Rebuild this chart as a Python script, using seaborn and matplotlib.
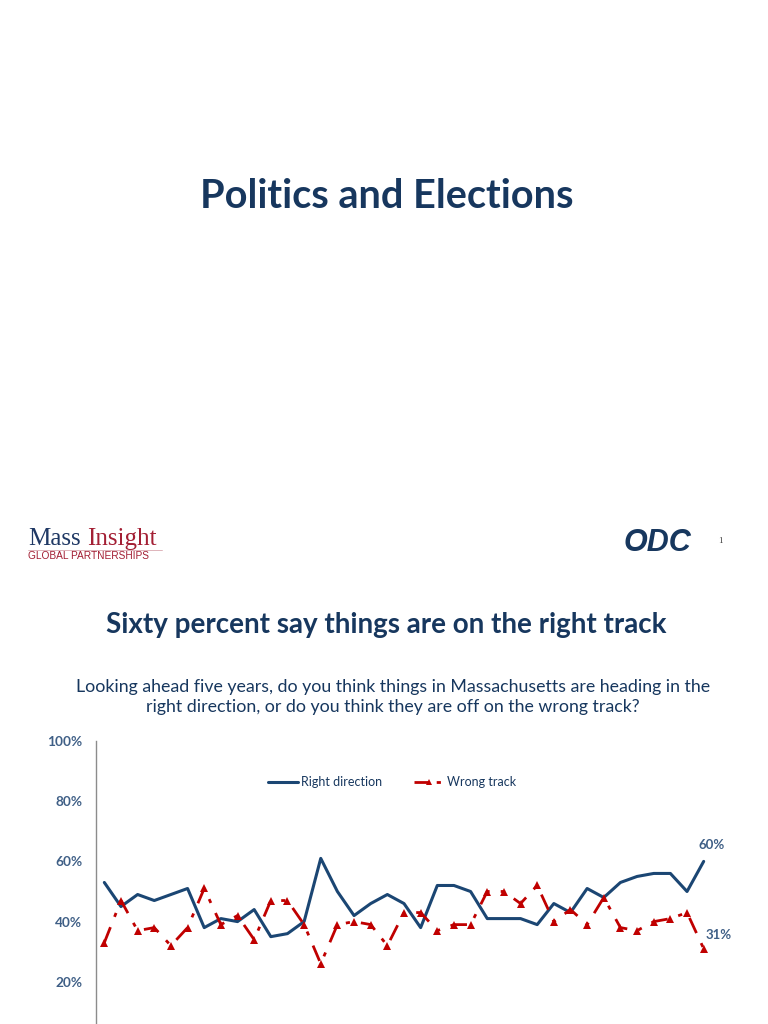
import numpy as np
import pandas as pd
import matplotlib
matplotlib.use("Agg")
import matplotlib.pyplot as plt
from matplotlib.lines import Line2D
import seaborn as sns

# survey waves (37 of them, unlabelled in the visible part of the chart)
waves = list(range(1, 38))
right_direction = [53, 45, 49, 47, 49, 51, 38, 41, 40, 44, 35, 36, 40, 61, 50, 42,
                   46, 49, 46, 38, 52, 52, 50, 41, 41, 41, 39, 46, 43, 51, 48, 53,
                   55, 56, 56, 50, 60]
wrong_track = [33, 47, 37, 38, 32, 38, 51, 39, 42, 34, 47, 47, 39, 26, 39, 40,
               39, 32, 43, 43, 37, 39, 39, 50, 50, 46, 52, 40, 44, 39, 48, 38,
               37, 40, 41, 43, 31]
# the 0% gridline sits below the visible page, so only these labels show
y_ticks = [20, 40, 60, 80, 100]
y_tick_labels = ["20%", "40%", "60%", "80%", "100%"]

NAVY = "#17375E"
LINE_BLUE = "#1B4673"
RED = "#C00000"
TICK_BLUE = "#3F5F86"

sns.set_style("white")
plt.rcParams['font.family'] = ['Lato', 'DejaVu Sans']

fig = plt.figure(figsize=(7.68, 10.24), dpi=100)

def fx(px):
    return px / 768

def fy(py):
    return 1 - py / 1024

# ---- first slide: section title + footer logos
fig.text(fx(387), fy(196), "Politics and Elections", ha="center", va="center",
         fontsize=28.5, fontweight="bold", color=NAVY)

fig.text(fx(28), fy(539), "Mass", ha="left", va="center", fontsize=18,
         family="Liberation Serif", color="#1F3864")
fig.text(fx(87), fy(539), "Insight", ha="left", va="center", fontsize=18,
         family="Liberation Serif", color="#A31F34")
fig.add_artist(Line2D([fx(28), fx(162)], [fy(550), fy(550)], color="#D9A8B0", lw=0.6))
fig.text(fx(28), fy(556), "GLOBAL PARTNERSHIPS", ha="left", va="center", fontsize=7.3,
         family="Liberation Sans", color="#A31F34")

fig.text(fx(624), fy(543), "ODC", ha="left", va="center", fontsize=22,
         family="Liberation Sans", fontweight="bold", fontstyle="italic", color=NAVY)
fig.text(fx(720), fy(541), "1", ha="center", va="center", fontsize=6.5,
         family="Liberation Serif", color="#404040")

# ---- second slide: chart
fig.text(fx(386), fy(625), "Sixty percent say things are on the right track",
         ha="center", va="center", fontsize=20, fontweight="bold", color=NAVY)
fig.text(fx(393), fy(697),
         "Looking ahead five years, do you think things in Massachusetts are heading in the\n"
         "right direction, or do you think they are off on the wrong track?",
         ha="center", va="center", fontsize=12.8, color=NAVY, linespacing=1.3)

ax_left, ax_right = 96, 712
ax_top, ax_bottom = 741, 1042
ax = fig.add_axes([fx(ax_left), fy(ax_bottom), (ax_right - ax_left) / 768,
                   (ax_bottom - ax_top) / 1024])

df = pd.DataFrame({"wave": waves, "Right direction": right_direction,
                   "Wrong track": wrong_track})

sns.lineplot(data=df, x="wave", y="Right direction", ax=ax, color=LINE_BLUE,
             linewidth=2.2, errorbar=None)
sns.lineplot(data=df, x="wave", y="Wrong track", ax=ax, color=RED, linewidth=2.0,
             marker="^", markersize=6, markeredgewidth=0, errorbar=None)
ax.lines[-1].set_dashes([6, 4, 1.5, 4])

ax.set_xlim(0.5, 37.5)
ax.set_ylim(0, 100)
ax.set_yticks(y_ticks)
ax.set_yticklabels(y_tick_labels)
ax.set_xticks([])
ax.set_xlabel("")
ax.set_ylabel("")
for side in ["top", "right", "bottom"]:
    ax.spines[side].set_visible(False)
ax.spines["left"].set_color("#8C8C8C")
ax.spines["left"].set_linewidth(1.0)
ax.tick_params(axis="y", direction="out", length=4, width=0.8, color="#8C8C8C",
               pad=6, labelsize=9.8, labelcolor=TICK_BLUE)
for lbl in ax.get_yticklabels():
    lbl.set_fontweight("bold")
ax.patch.set_alpha(0)

# end-point labels
ax.annotate(f"{right_direction[-1]}%", (waves[-1], right_direction[-1]),
            xytext=(6, 12), textcoords="offset points", ha="center", va="center",
            fontsize=9.5, fontweight="bold", color=TICK_BLUE)
ax.annotate(f"{wrong_track[-1]}%", (waves[-1], wrong_track[-1]),
            xytext=(11, 10), textcoords="offset points", ha="center", va="center",
            fontsize=9.5, fontweight="bold", color=TICK_BLUE)

handles = [
    Line2D([], [], color=LINE_BLUE, linewidth=2.2),
    Line2D([], [], color=RED, linewidth=2.0, marker="^", markersize=5,
           markeredgewidth=0, dashes=[5, 3, 1.5, 3]),
]
fig.legend(handles, ["Right direction", "Wrong track"], loc="center",
           bbox_to_anchor=(fx(392), fy(782)), ncol=2, frameon=False,
           fontsize=9, handlelength=2.4, handletextpad=0.2, columnspacing=2.6,
           labelcolor=NAVY)

fig.savefig("out.png", dpi=100)
